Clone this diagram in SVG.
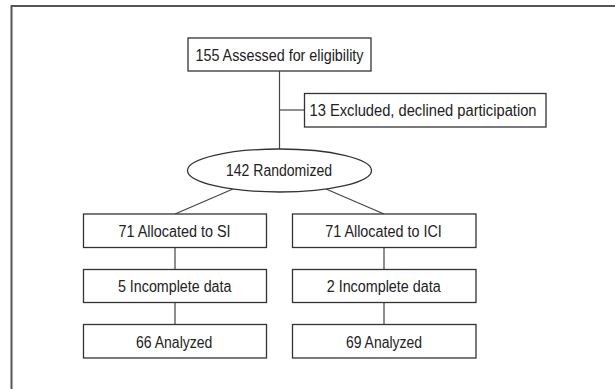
<svg xmlns="http://www.w3.org/2000/svg" width="615" height="389" viewBox="0 0 615 389">
<style>
.frame{fill:none;stroke:#555;stroke-width:2}
.box{fill:#fff;stroke:#333;stroke-width:1.3}
.conn{fill:none;stroke:#444;stroke-width:1.2}
text{font-family:"Liberation Sans",Arial,sans-serif;font-size:16px;fill:#222;text-anchor:middle}
</style>
<rect width="615" height="389" fill="#fff"/>
<path class="frame" d="M11.5,389 V6 H615"/>
<g id="connectors">
<line class="conn" x1="279.5" y1="71" x2="279.5" y2="149"/>
<line class="conn" x1="279.5" y1="110" x2="304.5" y2="110"/>
<line class="conn" x1="233" y1="189" x2="175" y2="214"/>
<line class="conn" x1="326" y1="189" x2="384" y2="214"/>
<line class="conn" x1="175" y1="247.5" x2="175" y2="269.5"/>
<line class="conn" x1="175" y1="302.5" x2="175" y2="324.5"/>
<line class="conn" x1="384" y1="247.5" x2="384" y2="269.5"/>
<line class="conn" x1="384" y1="302.5" x2="384" y2="324.5"/>
</g>
<g id="assessed">
<rect class="box" x="188" y="38" width="183" height="33"/>
<text x="279.5" y="60.5" textLength="168" lengthAdjust="spacingAndGlyphs">155 Assessed for eligibility</text>
</g>
<g id="excluded">
<rect class="box" x="304.5" y="93.5" width="241.5" height="33.5"/>
<text x="423" y="115.7" textLength="227" lengthAdjust="spacingAndGlyphs">13 Excluded, declined participation</text>
</g>
<g id="randomized">
<ellipse class="box" cx="279.5" cy="170.5" rx="92" ry="21.5"/>
<text x="279" y="176" textLength="106" lengthAdjust="spacingAndGlyphs">142 Randomized</text>
</g>
<g id="allocSI">
<rect class="box" x="83.5" y="214" width="183" height="33.5"/>
<text x="174.5" y="236.7" textLength="112" lengthAdjust="spacingAndGlyphs">71 Allocated to SI</text>
</g>
<g id="allocICI">
<rect class="box" x="292.5" y="214" width="183.5" height="33.5"/>
<text x="383.5" y="236.7" textLength="116.5" lengthAdjust="spacingAndGlyphs">71 Allocated to ICI</text>
</g>
<g id="incompleteSI">
<rect class="box" x="83.5" y="269.5" width="183" height="33"/>
<text x="174.7" y="291.7" textLength="113.5" lengthAdjust="spacingAndGlyphs">5 Incomplete data</text>
</g>
<g id="incompleteICI">
<rect class="box" x="292.5" y="269.5" width="183.5" height="33"/>
<text x="383.7" y="291.7" textLength="114" lengthAdjust="spacingAndGlyphs">2 Incomplete data</text>
</g>
<g id="analyzedSI">
<rect class="box" x="83.5" y="324.5" width="183" height="33.5"/>
<text x="174.2" y="347.5" textLength="76.5" lengthAdjust="spacingAndGlyphs">66 Analyzed</text>
</g>
<g id="analyzedICI">
<rect class="box" x="292.5" y="324.5" width="183.5" height="33.5"/>
<text x="384" y="347.5" textLength="76" lengthAdjust="spacingAndGlyphs">69 Analyzed</text>
</g>
</svg>
